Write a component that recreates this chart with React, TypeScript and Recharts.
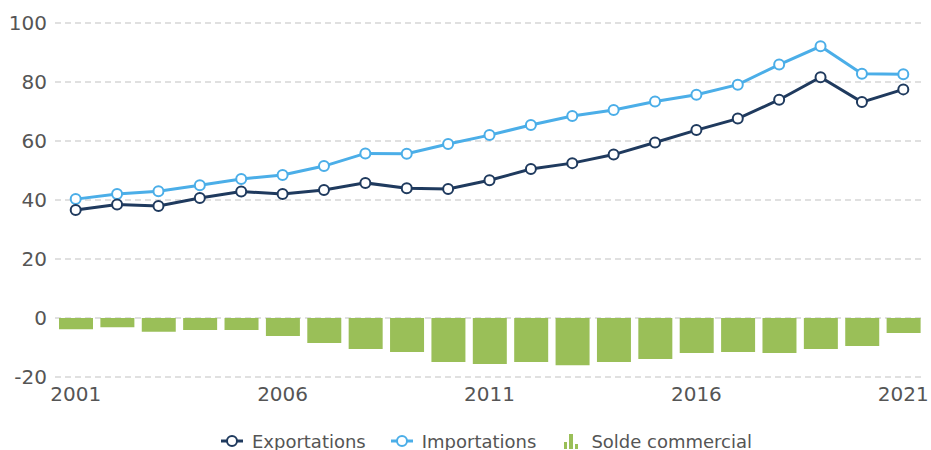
import React from "react";
import {
  Bar,
  CartesianGrid,
  ComposedChart,
  Legend,
  Line,
  XAxis,
  YAxis,
} from "recharts";

const years = [
  "2001", "2002", "2003", "2004", "2005", "2006", "2007", "2008", "2009", "2010", "2011",
  "2012", "2013", "2014", "2015", "2016", "2017", "2018", "2019", "2020", "2021",
];
const exportations = [
  36.6, 38.5, 38.0, 40.7, 42.9, 42.0, 43.4, 45.8, 44.0, 43.7, 46.7,
  50.5, 52.5, 55.4, 59.5, 63.7, 67.6, 74.0, 81.6, 73.2, 77.5,
];
const importations = [
  40.3, 42.0, 43.0, 45.0, 47.1, 48.5, 51.5, 55.8, 55.7, 59.0, 62.0,
  65.4, 68.5, 70.5, 73.4, 75.7, 79.1, 85.9, 92.1, 82.8, 82.6,
];
const solde = [
  -3.8, -3.1, -4.7, -4.1, -4.1, -6.1, -8.5, -10.5, -11.5, -14.9, -15.6,
  -14.9, -16.0, -14.9, -13.9, -11.9, -11.5, -11.9, -10.5, -9.5, -5.1,
];
const yTicks = [-20, 0, 20, 40, 60, 80, 100];

const EXPORT_COLOR = "#1f3a5e";
const IMPORT_COLOR = "#4baee8";
const SOLDE_COLOR = "#9abf58";
const TEXT_COLOR = "#555555";
const FONT = "'DejaVu Sans', Verdana, sans-serif";

const data = years.map((year, i) => ({
  year,
  exportations: exportations[i],
  importations: importations[i],
  solde: solde[i],
}));

function LineIcon({ color }: { color: string }) {
  return (
    <svg width={22} height={14} style={{ display: "block" }}>
      <line x1={0} y1={7} x2={22} y2={7} stroke={color} strokeWidth={3} />
      <circle cx={11} cy={7} r={5} fill="#fff" stroke={color} strokeWidth={2} />
    </svg>
  );
}

function BarIcon() {
  return (
    <svg width={14} height={16} style={{ display: "block" }}>
      <rect x={0} y={9} width={3} height={7} fill={SOLDE_COLOR} />
      <rect x={5} y={1} width={4} height={15} fill={SOLDE_COLOR} />
      <rect x={11} y={11} width={3} height={5} fill={SOLDE_COLOR} />
    </svg>
  );
}

function ChartLegend() {
  const item = { display: "flex", alignItems: "center", gap: 9 };
  return (
    <div
      style={{
        display: "flex",
        justifyContent: "center",
        alignItems: "center",
        gap: 25,
        paddingLeft: 42,
        height: 18,
        fontFamily: FONT,
        fontSize: 18,
        color: TEXT_COLOR,
      }}
    >
      <div style={item}>
        <LineIcon color={EXPORT_COLOR} />
        <span>Exportations</span>
      </div>
      <div style={item}>
        <LineIcon color={IMPORT_COLOR} />
        <span>Importations</span>
      </div>
      <div style={{ ...item, marginLeft: 3, gap: 13 }}>
        <BarIcon />
        <span>Solde commercial</span>
      </div>
    </div>
  );
}

export default function App() {
  const tick = { fill: TEXT_COLOR, fontSize: 20, fontFamily: FONT };
  return (
    <div style={{ position: "absolute", left: 0, top: 0, width: 931, height: 450, background: "#fff" }}>
      <ComposedChart
        width={931}
        height={450}
        data={data}
        margin={{ top: 23, right: 7, left: 0, bottom: 0 }}
      >
        <CartesianGrid vertical={false} stroke="#d6d6d6" strokeDasharray="6 4" strokeWidth={1.5} />
        <XAxis
          dataKey="year"
          interval={4}
          axisLine={false}
          tickLine={false}
          tickMargin={4}
          height={55}
          tick={tick}
        />
        <YAxis
          domain={[-20, 100]}
          ticks={yTicks}
          axisLine={false}
          tickLine={false}
          width={55}
          tick={tick}
        />
        <Legend verticalAlign="bottom" content={() => <ChartLegend />} wrapperStyle={{ left: 0, width: 931, bottom: 0 }} />
        <Bar dataKey="solde" fill={SOLDE_COLOR} barSize={34} isAnimationActive={false} />
        <Line
          type="linear"
          dataKey="importations"
          stroke={IMPORT_COLOR}
          strokeWidth={3}
          dot={{ r: 5, fill: "#fff", stroke: IMPORT_COLOR, strokeWidth: 2 }}
          isAnimationActive={false}
        />
        <Line
          type="linear"
          dataKey="exportations"
          stroke={EXPORT_COLOR}
          strokeWidth={3}
          dot={{ r: 5, fill: "#fff", stroke: EXPORT_COLOR, strokeWidth: 2 }}
          isAnimationActive={false}
        />
      </ComposedChart>
    </div>
  );
}
